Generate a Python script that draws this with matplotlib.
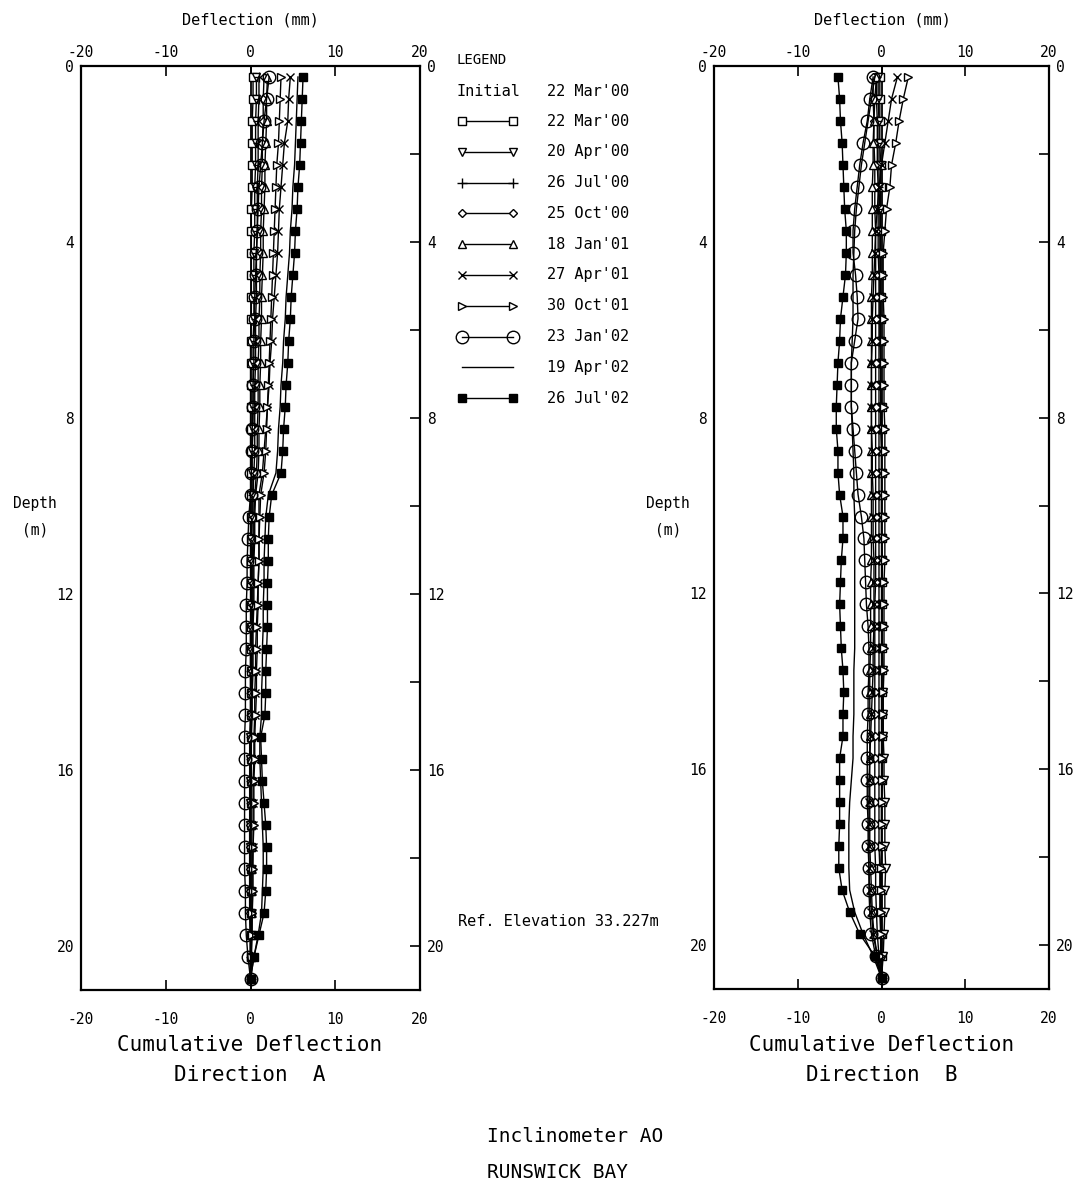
import matplotlib
matplotlib.use("Agg")
import matplotlib.pyplot as plt

plt.rcParams['font.family'] = ['DejaVu Sans Mono', 'DejaVu Sans']

# ---------------- data ----------------
depth_m = [0.25, 0.75, 1.25, 1.75, 2.25, 2.75, 3.25, 3.75, 4.25, 4.75,
           5.25, 5.75, 6.25, 6.75, 7.25, 7.75, 8.25, 8.75, 9.25, 9.75,
           10.25, 10.75, 11.25, 11.75, 12.25, 12.75, 13.25, 13.75, 14.25, 14.75,
           15.25, 15.75, 16.25, 16.75, 17.25, 17.75, 18.25, 18.75, 19.25, 19.75,
           20.25, 20.75]

dates = ["22 Mar'00", "20 Apr'00", "26 Jul'00", "25 Oct'00", "18 Jan'01",
         "27 Apr'01", "30 Oct'01", "23 Jan'02", "19 Apr'02", "26 Jul'02"]
initial_date = "22 Mar'00"

# Direction A cumulative deflection (mm)
dirA_22mar00 = [0.3, 0.3, 0.2, 0.2, 0.2, 0.2, 0.1, 0.1, 0.1, 0.1,
                0.1, 0.1, 0.0, 0.0, 0.0, 0.0, 0.0, 0.0, 0.0, 0.0,
                0.0, 0.0, 0.0, 0.0, 0.0, 0.0, 0.0, 0.0, 0.0, 0.0,
                0.0, 0.0, 0.0, 0.0, 0.0, 0.0, 0.0, 0.0, 0.0, 0.0,
                0.0, 0.0]
dirA_20apr00 = [0.7, 0.7, 0.6, 0.6, 0.6, 0.5, 0.5, 0.5, 0.4, 0.4,
                0.4, 0.4, 0.3, 0.3, 0.3, 0.3, 0.3, 0.2, 0.2, 0.2,
                0.2, 0.1, 0.1, 0.1, 0.1, 0.0, 0.0, 0.0, 0.0, 0.0,
                -0.1, -0.1, -0.1, -0.1, -0.1, -0.1, -0.1, -0.1, -0.1, 0.0,
                0.0, 0.0]
dirA_26jul00 = [1.0, 1.0, 0.9, 0.9, 0.9, 0.8, 0.8, 0.8, 0.7, 0.7,
                0.7, 0.6, 0.6, 0.6, 0.5, 0.5, 0.5, 0.5, 0.4, 0.3,
                0.3, 0.3, 0.2, 0.2, 0.2, 0.2, 0.1, 0.1, 0.1, 0.1,
                0.0, 0.0, 0.0, 0.0, 0.0, 0.0, 0.0, 0.0, 0.0, 0.0,
                0.0, 0.0]
dirA_25oct00 = [1.6, 1.5, 1.5, 1.4, 1.4, 1.3, 1.3, 1.2, 1.2, 1.1,
                1.1, 1.0, 1.0, 0.9, 0.9, 0.9, 0.8, 0.8, 0.7, 0.5,
                0.4, 0.4, 0.3, 0.3, 0.3, 0.2, 0.2, 0.2, 0.1, 0.1,
                0.1, 0.0, 0.0, 0.0, -0.1, -0.1, -0.1, -0.1, -0.1, 0.0,
                0.0, 0.0]
dirA_18jan01 = [2.0, 1.9, 1.9, 1.8, 1.7, 1.7, 1.6, 1.5, 1.5, 1.4,
                1.3, 1.3, 1.2, 1.2, 1.1, 1.1, 1.0, 1.0, 0.9, 0.6,
                0.5, 0.5, 0.4, 0.4, 0.4, 0.3, 0.3, 0.3, 0.2, 0.2,
                0.1, 0.1, 0.1, 0.0, 0.0, 0.0, 0.0, 0.0, 0.0, 0.0,
                0.0, 0.0]
dirA_27apr01 = [4.7, 4.5, 4.4, 4.0, 3.8, 3.6, 3.4, 3.3, 3.2, 3.0,
                2.8, 2.6, 2.5, 2.3, 2.2, 2.0, 1.8, 1.6, 1.4, 1.0,
                1.0, 1.0, 1.0, 0.9, 0.8, 0.7, 0.6, 0.6, 0.5, 0.5,
                0.4, 0.4, 0.3, 0.3, 0.3, 0.3, 0.2, 0.2, 0.2, 0.1,
                0.1, 0.0]
dirA_30oct01 = [3.6, 3.5, 3.4, 3.3, 3.1, 3.0, 2.9, 2.8, 2.7, 2.6,
                2.5, 2.4, 2.3, 2.2, 2.1, 2.0, 1.9, 1.8, 1.6, 1.2,
                1.1, 1.0, 1.0, 0.9, 0.9, 0.8, 0.8, 0.7, 0.7, 0.6,
                0.5, 0.5, 0.4, 0.4, 0.4, 0.3, 0.3, 0.3, 0.2, 0.2,
                0.1, 0.0]
dirA_23jan02 = [2.2, 1.9, 1.6, 1.4, 1.2, 1.0, 0.9, 0.8, 0.7, 0.6,
                0.5, 0.5, 0.4, 0.4, 0.3, 0.3, 0.2, 0.2, 0.1, 0.0,
                -0.2, -0.3, -0.4, -0.4, -0.5, -0.5, -0.5, -0.6, -0.6, -0.6,
                -0.7, -0.7, -0.7, -0.7, -0.7, -0.7, -0.7, -0.6, -0.6, -0.5,
                -0.3, 0.0]
dirA_19apr02 = [5.6, 5.5, 5.4, 5.3, 5.2, 5.0, 4.9, 4.7, 4.6, 4.4,
                4.2, 4.1, 3.9, 3.8, 3.6, 3.5, 3.3, 3.2, 3.0, 2.1,
                1.8, 1.7, 1.6, 1.6, 1.5, 1.5, 1.4, 1.4, 1.3, 1.3,
                1.1, 1.1, 1.2, 1.3, 1.4, 1.5, 1.5, 1.4, 1.3, 0.9,
                0.4, 0.0]
dirA_26jul02 = [6.2, 6.1, 6.0, 5.9, 5.8, 5.6, 5.5, 5.3, 5.2, 5.0,
                4.8, 4.7, 4.5, 4.4, 4.2, 4.1, 3.9, 3.8, 3.6, 2.5,
                2.2, 2.1, 2.1, 2.0, 2.0, 2.0, 1.9, 1.8, 1.8, 1.7,
                1.2, 1.3, 1.4, 1.6, 1.8, 1.9, 1.9, 1.8, 1.6, 1.0,
                0.4, 0.0]

# Direction B cumulative deflection (mm)
dirB_22mar00 = [-0.2, -0.2, -0.2, -0.2, -0.1, -0.1, -0.1, -0.1, -0.1, -0.1,
                -0.1, -0.1, -0.1, -0.1, -0.1, 0.0, 0.0, 0.0, 0.0, 0.0,
                0.0, 0.0, 0.0, 0.0, 0.0, 0.0, 0.0, 0.0, 0.0, 0.0,
                0.0, 0.0, 0.0, 0.0, 0.0, 0.0, 0.0, 0.0, 0.0, 0.0,
                0.0, 0.0]
dirB_20apr00 = [-0.4, -0.4, -0.3, -0.3, -0.3, -0.3, -0.2, -0.2, -0.2, -0.2,
                -0.2, -0.2, -0.2, -0.1, -0.1, -0.1, -0.1, 0.0, 0.0, 0.0,
                0.0, 0.0, 0.1, 0.1, 0.1, 0.1, 0.1, 0.2, 0.2, 0.2,
                0.2, 0.3, 0.3, 0.4, 0.4, 0.4, 0.5, 0.4, 0.4, 0.3,
                0.2, 0.0]
dirB_26jul00 = [-0.6, -0.6, -0.5, -0.5, -0.5, -0.4, -0.4, -0.4, -0.4, -0.3,
                -0.3, -0.3, -0.3, -0.3, -0.3, -0.3, -0.3, -0.3, -0.3, -0.3,
                -0.3, -0.3, -0.3, -0.3, -0.3, -0.3, -0.3, -0.3, -0.3, -0.3,
                -0.3, -0.3, -0.3, -0.3, -0.3, -0.3, -0.2, -0.2, -0.2, -0.1,
                -0.1, 0.0]
dirB_25oct00 = [-1.0, -1.0, -0.9, -0.9, -0.8, -0.8, -0.8, -0.7, -0.7, -0.7,
                -0.7, -0.7, -0.7, -0.7, -0.7, -0.7, -0.7, -0.7, -0.7, -0.7,
                -0.7, -0.7, -0.7, -0.7, -0.8, -0.8, -0.8, -0.8, -0.8, -0.8,
                -0.8, -0.8, -0.8, -0.8, -0.8, -0.8, -0.7, -0.7, -0.6, -0.5,
                -0.3, 0.0]
dirB_18jan01 = [-0.6, -0.8, -0.9, -1.0, -1.0, -1.1, -1.1, -1.1, -1.1, -1.1,
                -1.2, -1.2, -1.2, -1.2, -1.2, -1.2, -1.2, -1.2, -1.2, -1.2,
                -1.2, -1.2, -1.2, -1.3, -1.3, -1.3, -1.3, -1.4, -1.4, -1.4,
                -1.4, -1.4, -1.4, -1.4, -1.4, -1.4, -1.3, -1.2, -1.1, -0.9,
                -0.5, 0.0]
dirB_27apr01 = [1.9, 1.2, 0.8, 0.4, 0.0, -0.3, -0.5, -0.7, -0.8, -0.9,
                -1.0, -1.1, -1.1, -1.2, -1.2, -1.2, -1.2, -1.1, -1.1, -1.0,
                -1.0, -1.0, -0.9, -0.9, -0.9, -0.9, -1.0, -1.0, -1.1, -1.2,
                -1.3, -1.4, -1.5, -1.5, -1.5, -1.5, -1.5, -1.4, -1.2, -1.0,
                -0.5, 0.0]
dirB_30oct01 = [3.2, 2.6, 2.1, 1.7, 1.2, 1.0, 0.6, 0.4, 0.2, 0.2,
                0.2, 0.3, 0.3, 0.3, 0.3, 0.3, 0.4, 0.4, 0.4, 0.4,
                0.4, 0.4, 0.4, 0.3, 0.3, 0.3, 0.3, 0.3, 0.2, 0.2,
                0.2, 0.1, 0.1, 0.0, 0.0, 0.0, -0.1, -0.1, -0.1, -0.1,
                -0.1, 0.0]
dirB_23jan02 = [-1.0, -1.4, -1.7, -2.2, -2.6, -2.9, -3.2, -3.4, -3.4, -3.1,
                -2.9, -2.8, -3.2, -3.6, -3.6, -3.6, -3.4, -3.2, -3.0, -2.8,
                -2.4, -2.1, -2.0, -1.9, -1.8, -1.6, -1.5, -1.5, -1.6, -1.6,
                -1.7, -1.7, -1.7, -1.7, -1.6, -1.6, -1.5, -1.5, -1.4, -1.2,
                -0.7, 0.0]
dirB_19apr02 = [-0.8, -1.2, -1.6, -2.0, -2.4, -2.7, -3.0, -3.2, -3.3, -3.4,
                -3.4, -3.4, -3.5, -3.6, -3.6, -3.6, -3.5, -3.4, -3.3, -3.3,
                -3.2, -3.2, -3.2, -3.2, -3.2, -3.2, -3.2, -3.3, -3.3, -3.3,
                -3.4, -3.4, -3.6, -3.8, -3.9, -3.9, -3.9, -3.8, -3.2, -2.2,
                -1.0, 0.0]
dirB_26jul02 = [-5.2, -5.0, -4.9, -4.7, -4.6, -4.5, -4.4, -4.2, -4.2, -4.3,
                -4.6, -4.9, -5.0, -5.2, -5.3, -5.4, -5.4, -5.2, -5.2, -5.0,
                -4.6, -4.6, -4.8, -4.9, -5.0, -4.9, -4.8, -4.6, -4.5, -4.6,
                -4.6, -5.0, -5.0, -5.0, -5.0, -5.1, -5.1, -4.7, -3.8, -2.6,
                -0.8, 0.0]

x_ticks = [-20, -10, 0, 10, 20]
depth_ticks = [0, 4, 8, 12, 16, 20]
depth_minor = [2, 6, 10, 14, 18]

seriesA = [dirA_22mar00, dirA_20apr00, dirA_26jul00, dirA_25oct00, dirA_18jan01,
           dirA_27apr01, dirA_30oct01, dirA_23jan02, dirA_19apr02, dirA_26jul02]
seriesB = [dirB_22mar00, dirB_20apr00, dirB_26jul00, dirB_25oct00, dirB_18jan01,
           dirB_27apr01, dirB_30oct01, dirB_23jan02, dirB_19apr02, dirB_26jul02]

# ---------------- styles ----------------
K = 'black'
styles = [
    dict(marker='s', ms=5.5, mfc='white'),
    dict(marker='v', ms=5.5, mfc='white'),
    dict(marker='+', ms=7, mfc='none'),
    dict(marker='D', ms=4, mfc='white'),
    dict(marker='^', ms=5.5, mfc='white'),
    dict(marker='x', ms=6, mfc='none'),
    dict(marker='>', ms=6, mfc='white'),
    dict(marker='o', ms=9, mfc='none'),
    dict(marker='None', ms=0, mfc='none'),
    dict(marker='s', ms=5.5, mfc=K),
]

W, H = 1080, 1190
fig = plt.figure(figsize=(W / 100, H / 100), dpi=100)
fig.patch.set_facecolor('white')


def px_box(l, t, r, b):
    return [l / W, 1 - b / H, (r - l) / W, (b - t) / H]


def setup(ax):
    ax.set_xlim(-20, 20)
    ax.set_ylim(21, 0)
    ax.set_xticks(x_ticks)
    ax.set_xticklabels([str(v) for v in x_ticks])
    ax.set_yticks(depth_ticks)
    ax.set_yticklabels([str(v) for v in depth_ticks])
    ax.set_yticks(depth_minor, minor=True)
    ax.tick_params(axis='x', which='both', top=True, bottom=True, labeltop=True,
                   labelbottom=False, direction='in', length=7, width=1.2,
                   labelsize=10.5, pad=4)
    ax.tick_params(axis='y', which='major', left=False, right=True,
                   labelleft=True, labelright=True, direction='in', length=7,
                   width=1.2, labelsize=10.5, pad=5)
    ax.tick_params(axis='y', which='minor', left=False, right=True,
                   direction='in', length=7, width=1.2)
    for s in ax.spines.values():
        s.set_linewidth(1.6)
    ax.axvline(0, color=K, lw=1.3, zorder=1)
    sec = ax.secondary_xaxis('bottom')
    sec.set_xticks(x_ticks)
    sec.set_xticklabels([str(v) for v in x_ticks])
    sec.tick_params(axis='x', direction='in', length=0, labelsize=10.5, pad=16)
    sec.spines['bottom'].set_visible(False)


def draw(ax, series):
    for vals, st in zip(series, styles):
        ax.plot(vals, depth_m, color=K, lw=1.0, mec=K, mew=1.0, zorder=3, **st)


axA = fig.add_axes(px_box(81, 66, 420, 990))
axB = fig.add_axes(px_box(714, 66, 1049, 989))
for ax, ser in ((axA, seriesA), (axB, seriesB)):
    setup(ax)
    draw(ax, ser)

# axis titles
for cx, lx, d in ((250, 35, 'A'), (882, 668, 'B')):
    fig.text(cx / W, 1 - 20 / H, 'Deflection (mm)', ha='center', va='center', fontsize=11)
    fig.text(cx / W, 1 - 1045 / H, 'Cumulative Deflection', ha='center', va='center', fontsize=15)
    fig.text(cx / W, 1 - 1075 / H, 'Direction  ' + d, ha='center', va='center', fontsize=15)
    fig.text(lx / W, 1 - 503 / H, 'Depth', ha='center', va='center', fontsize=10.5)
    fig.text(lx / W, 1 - 530 / H, '(m)', ha='center', va='center', fontsize=10.5)

# legend (drawn by hand in a pixel-coordinate overlay)
lg = fig.add_axes([0, 0, 1, 1], facecolor='none')
lg.set_xlim(0, W)
lg.set_ylim(H, 0)
lg.axis('off')
lg.text(456, 60, 'LEGEND', ha='left', va='center', fontsize=10)
lg.text(457, 91, 'Initial', ha='left', va='center', fontsize=11)
lg.text(547, 91, initial_date, ha='left', va='center', fontsize=11)
row0, step = 121, 30.8
for i, (lab, st) in enumerate(zip(dates, styles)):
    y = row0 + i * step
    lg.plot([462, 513], [y, y], color=K, lw=1.0, mec=K, mew=1.0, **st)
    lg.text(547, y, lab, ha='left', va='center', fontsize=11)

lg.text(458, 921, 'Ref. Elevation 33.227m', ha='left', va='center', fontsize=11)
lg.text(487, 1137, 'Inclinometer AO', ha='left', va='center', fontsize=14)
lg.text(487, 1172, 'RUNSWICK BAY', ha='left', va='center', fontsize=14)

fig.savefig('out.png', dpi=100, facecolor='white')
